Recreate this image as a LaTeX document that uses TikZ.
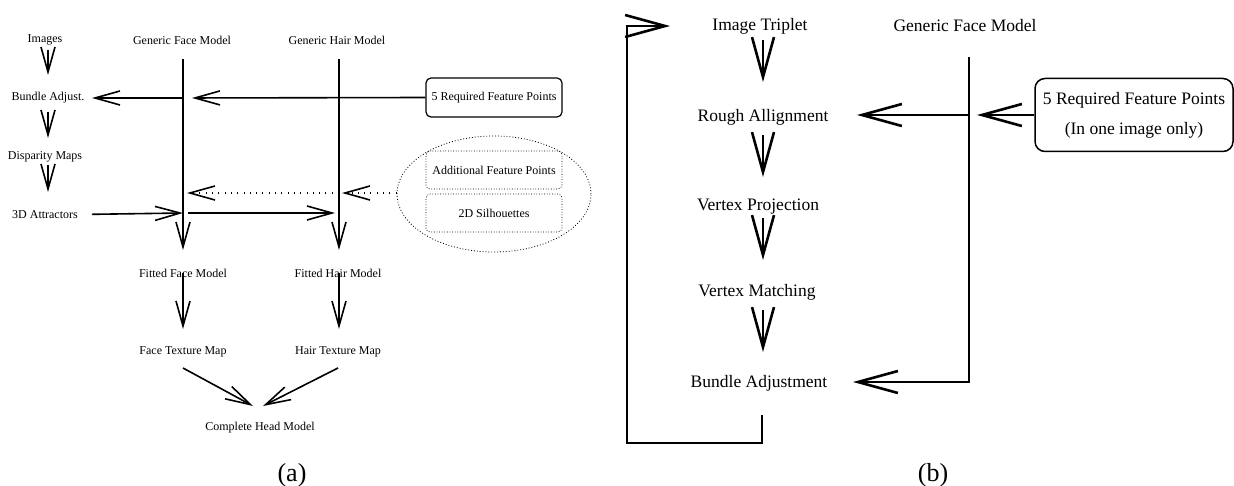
\documentclass[tikz,border=0pt]{standalone}
\usepackage{fontspec}
\newfontfamily\tm{Liberation Serif}
\usetikzlibrary{arrows.meta,shapes.geometric,calc}
\begin{document}
\begin{tikzpicture}[x=1pt,y=-1pt,
  ta/.style={font=\tm\fontsize{12}{14}\selectfont, inner sep=0pt},
  tb/.style={font=\tm\fontsize{17.5}{30}\selectfont, inner sep=0pt},
  arra/.style={line width=1.6pt, -{Straight Barb[length=25pt,width=14pt]}},
  linea/.style={line width=1.6pt},
  arrb/.style={line width=2.6pt, -{Straight Barb[length=40pt,width=22pt]}},
  lineb/.style={line width=2.6pt},
  dotline/.style={dash pattern=on 1pt off 5.3pt},
  dotbox/.style={draw, line width=0.7pt, dash pattern=on 0.8pt off 1.8pt, rounded corners=4pt, minimum width=136pt, minimum height=38pt},
  capt/.style={font=\tm\fontsize{26}{30}\selectfont, inner sep=0pt}
]
\useasboundingbox (0,0) rectangle (1234,486);
% ---------- (a) ----------
\node[ta] (img) at (45,40) {Images};
\node[ta] (ba) at (48,98) {Bundle Adjust.};
\node[ta] (dm) at (45,157) {Disparity Maps};
\node[ta] (att) at (45,215) {3D Attractors};
\node[ta] (gfm) at (182,40) {Generic Face Model};
\node[ta] (ghm) at (337,40) {Generic Hair Model};
\node[ta] (ffm) at (183,273) {Fitted Face Model};
\node[ta] (fhm) at (338,273) {Fitted Hair Model};
\node[ta] (ftm) at (183,352) {Face Texture Map};
\node[ta] (htm) at (338,352) {Hair Texture Map};
\node[ta] (chm) at (260,428) {Complete Head Model};
\node[ta, draw, line width=1.2pt, rounded corners=5pt, minimum width=136pt, minimum height=39pt] (req) at (494,97.5) {5 Required Feature Points};
\node[draw, ellipse, inner sep=0pt, line width=0.8pt, dash pattern=on 0.9pt off 2pt, minimum width=194pt, minimum height=116pt] (ell) at (494,194) {};
\node[ta, dotbox] (afp) at (494,170) {Additional Feature Points};
\node[ta, dotbox] (sil) at (494,213) {2D Silhouettes};
\node[capt] (capa) at (292,475) {(a)};

\coordinate (ftop) at (183,59);
\coordinate (htop) at (339,59);
\coordinate (fj1) at (183,98);
\coordinate (fj2) at (183,193);
\coordinate (hj2) at (339,193);
\coordinate (fj3) at (183,213);
\coordinate (hj3) at (339,213);

\draw[arra, shorten <=10pt, shorten >=23pt] (img.center -| ba.center) -- (ba.center);
\draw[arra, shorten <=14pt, shorten >=19pt] (ba.center) -- (ba.center |- dm.center);
\draw[arra, shorten <=8pt, shorten >=23pt] (ba.center |- dm.center) -- (ba.center |- att.center);

\draw[arra, shorten >=23pt] (ftop) -- (ffm.center);
\draw[arra, shorten >=23pt] (htop) -- (htop |- fhm.center);

\draw[arra, shorten >=9pt] (req.west) -- (fj1);
\draw[arra, shorten >=44pt] (fj1) -- (ba.center);

\draw[arra, dotline, shorten >=3pt] (ell.west |- hj2) -- (hj2);
\draw[arra, dotline, shorten >=4pt] (hj2) -- (fj2);

\draw[arra, shorten <=47pt] (att.center) -- (fj3);
\draw[arra, shorten <=5pt, shorten >=4pt] (fj3) -- (hj3);

\draw[arra, shorten >=23pt] (ffm.center) -- (ftm.center);
\draw[arra, shorten >=23pt] (fhm.center -| htop) -- (htm.center -| htop);

\draw[arra] ($(ftm.center)+(0,16)$) -- ($(chm.center)+(-7,-22)$);
\draw[arra] ($(htm.center)+(0,16)$) -- ($(chm.center)+(3,-22)$);

% ---------- (b) ----------
\node[tb] (it) at (760,26) {Image Triplet};
\node[tb] (ra) at (763,117) {Rough Allignment};
\node[tb] (vp) at (758,207) {Vertex Projection};
\node[tb] (vm) at (757,292) {Vertex Matching};
\node[tb] (bad) at (759,383) {Bundle Adjustment};
\node[tb] (gfm2) at (965,26) {Generic Face Model};
\node[tb, draw, line width=1.5pt, rounded corners=10pt, minimum width=198pt, minimum height=73pt, align=center] (req2) at (1134,115) {5 Required Feature Points\\(In one image only)};
\node[capt] (capb) at (933,475) {(b)};

\coordinate (gtop) at (969,57);
\coordinate (gj1) at (969,115);
\coordinate (gbot) at (969,382);
\coordinate (fbA) at (627,443);
\coordinate (fbB) at (627,26);

\draw[arrb, shorten <=14pt, shorten >=35pt] (it.center -| ra.center) -- (ra.center);
\draw[arrb, shorten <=18pt, shorten >=30pt] (ra.center) -- (ra.center |- vp.center);
\draw[arrb, shorten <=11pt, shorten >=32pt] (ra.center |- vp.center) -- (ra.center |- vm.center);
\draw[arrb, shorten <=18pt, shorten >=31pt] (ra.center |- vm.center) -- (ra.center |- bad.center);

\draw[arrb, shorten >=90pt] ($(bad.center)+(3,32)$) |- (fbA) -- (fbB) -- (it.center);

\draw[arrb, shorten >=8pt] (req2.west) -- (gj1);
\draw[arrb, shorten >=94pt] (gj1) -- (ra.center |- gj1);
\draw[arrb, shorten >=94pt] (gtop) -- (gbot) -- (bad.center |- gbot);
\end{tikzpicture}
\end{document}
